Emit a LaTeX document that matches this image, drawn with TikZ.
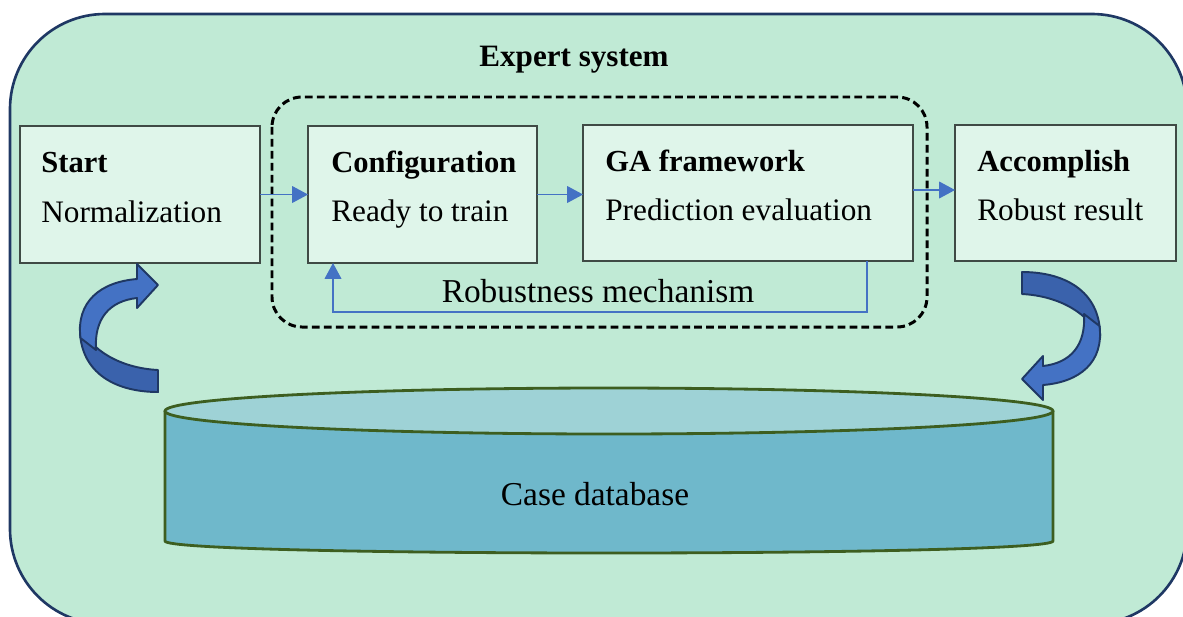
\documentclass[tikz,border=0pt]{standalone}
\usepackage{fontspec}
\setmainfont{Liberation Serif}
\usetikzlibrary{arrows.meta}

\definecolor{panelfill}{HTML}{C0EAD5}
\definecolor{panelline}{HTML}{1F3864}
\definecolor{boxfill}{HTML}{DFF5EA}
\definecolor{boxline}{HTML}{3F4A45}
\definecolor{flowblue}{HTML}{4472C4}
\definecolor{bandlight}{HTML}{4472C4}
\definecolor{banddark}{HTML}{3A62AC}
\definecolor{bandline}{HTML}{1F3864}
\definecolor{canside}{HTML}{6FB8CB}
\definecolor{cantop}{HTML}{9ED2D6}
\definecolor{canline}{HTML}{3D5E20}

\tikzset{
  stagebox/.style={draw=boxline, line width=0.8pt, fill=boxfill, inner sep=0pt, outer sep=0pt},
  headtxt/.style={inner sep=0pt, anchor=base west, font=\fontsize{17.4}{20}\selectfont\bfseries},
  bodytxt/.style={inner sep=0pt, anchor=base west, font=\fontsize{17.8}{20}\selectfont},
  flow/.style={draw=flowblue, line width=0.7pt, -{Triangle[length=9pt,width=9.5pt]}},
  bandback/.style={fill=banddark, draw=bandline, line width=1.1pt, line join=round},
  bandfront/.style={fill=bandlight, draw=bandline, line width=1.1pt, line join=round},
  % one curved band arrow, tail at the bottom right, head at the top right
  pics/bandarrow/.style={code={
    \draw[bandback] (158,370) .. controls (120,368) and (90,350) .. (80,325)
      .. controls (78,370) and (112,392) .. (158,392) -- cycle;
    \draw[bandfront] (80.5,338) .. controls (76,302) and (100,282) .. (137,279)
      -- (137,264) -- (158,285) -- (137,308) -- (137,298)
      .. controls (110,301) and (94,318) .. (96,350) -- cycle;
  }},
}

\begin{document}
\begin{tikzpicture}[x=0.02cm, y=-0.02cm]
  \useasboundingbox (0,0) rectangle (1183,616);
  \clip (0,0) rectangle (1183,616);

  % outer panel
  \draw[fill=panelfill, draw=panelline, line width=1.5pt, rounded corners=1.9cm]
    (10,14) rectangle (1187,624);
  \node[inner sep=0pt, anchor=base, font=\fontsize{17.7}{20}\selectfont\bfseries]
    (title) at (574,66) {Expert system};

  % dashed training loop frame
  \draw[black, line width=1.7pt, dash pattern=on 4.4pt off 2.4pt, rounded corners=0.6cm]
    (272,97) rectangle (927,327);

  % stage boxes
  \node[stagebox, minimum width=4.8cm,  minimum height=2.74cm] (start)  at (140,194.5) {};
  \node[stagebox, minimum width=4.58cm, minimum height=2.74cm] (config) at (422.5,194.5) {};
  \node[stagebox, minimum width=6.6cm,  minimum height=2.72cm] (ga)     at (748,193) {};
  \node[stagebox, minimum width=4.42cm, minimum height=2.72cm] (acc)    at (1065.5,193) {};

  \node[headtxt] (tstart)  at (41,172)  {Start};
  \node[bodytxt] (tnorm)   at (41,222)  {Normalization};
  \node[headtxt] (tconf)   at (331,172) {Configuration};
  \node[bodytxt] (tready)  at (331,221) {Ready to train};
  \node[headtxt] (tga)     at (605,171) {GA framework};
  \node[bodytxt] (tpred)   at (605,220) {Prediction evaluation};
  \node[headtxt] (tacc)    at (977,171) {Accomplish};
  \node[bodytxt] (trobres) at (977,220) {Robust result};

  % forward flow
  \coordinate (gaout) at (913,190);
  \draw[flow] (start.east) -- (config.west);
  \draw[flow] (config.east) -- (config.east -| ga.west);
  \draw[flow] (gaout) -- (gaout -| acc.west);

  % feedback loop
  \coordinate (fbR) at (867,312);
  \coordinate (fbL) at (333,312);
  \draw[flow] (ga.south -| fbR) -- (fbR) -- (fbL) -- (config.south -| fbL);
  \node[inner sep=0pt, anchor=base, font=\fontsize{19}{22}\selectfont]
    (robust) at (598,302) {Robustness mechanism};

  % case database cylinder
  \fill[canside] (165,411) -- (165,541)
    .. controls (165,557) and (1053,557) .. (1053,541) -- (1053,411) -- cycle;
  \draw[canline, line width=1.6pt, line join=round] (165,411) -- (165,541)
    .. controls (165,557) and (1053,557) .. (1053,541) -- (1053,411);
  \draw[fill=cantop, draw=canline, line width=1.6pt] (609,411) ellipse [x radius=444, y radius=23];
  \node[inner sep=0pt, anchor=base, font=\fontsize{19}{22}\selectfont]
    (db) at (595,505) {Case database};

  % curved arrows: database to start, accomplish back to database
  \pic {bandarrow};
  \pic[shift={(1180,664)}, xscale=-1, yscale=-1] {bandarrow};
\end{tikzpicture}
\end{document}
